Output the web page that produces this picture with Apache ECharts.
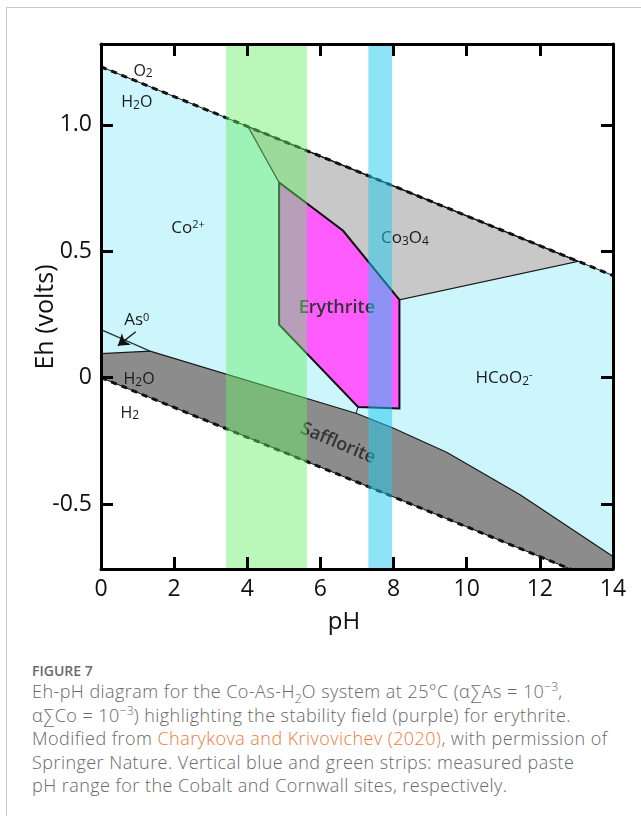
<!DOCTYPE html>
<html>
<head>
<meta charset="utf-8">
<title>Eh-pH diagram Co-As-H2O</title>
<script src="https://cdn.jsdelivr.net/npm/echarts@6/dist/echarts.min.js"></script>
<style>
  html, body { margin: 0; padding: 0; width: 641px; height: 816px; overflow: hidden; background: #fff; }
  .frame { position: absolute; left: 6px; top: 7px; right: 0; bottom: 0; border-left: 1px solid #c8c8c8; border-top: 1px solid #c8c8c8; }
  #chart { position: absolute; left: 0; top: 0; width: 641px; height: 645px; }
  .caption { position: absolute; left: 32px; top: 662px; width: 605px; color: #666; }
  .caption .fig { font-family: 'Open Sans', sans-serif; font-size: 14px; font-weight: 600; line-height: 18px; color: #6a6a6a; }
  .caption .txt { font-family: 'Open Sans', sans-serif; font-size: 18px; line-height: 23.5px; font-weight: 300; letter-spacing: 0.45px; white-space: nowrap; color: #686868; }
  .caption sub, .caption sup { font-size: 0.68em; line-height: 0; letter-spacing: 0; }
  .caption .link { color: #ee7a3a; }
</style>
</head>
<body>
<div class="frame"></div>
<div id="chart"></div>
<div class="caption">
  <div class="fig">FIGURE 7</div>
  <div class="txt">Eh-pH diagram for the Co-As-H<sub>2</sub>O system at 25°C (α∑As = 10<sup>−3</sup>,<br>α∑Co = 10<sup>−3</sup>) highlighting the stability field (purple) for erythrite.<br>Modified from <span class="link">Charykova and Krivovichev (2020)</span>, with permission of<br>Springer Nature. Vertical blue and green strips: measured paste<br>pH range for the Cobalt and Cornwall sites, respectively.</div>
</div>

<script>
  // all points are [pH, Eh (V)]
  const waterUpper = [[0, 1.23], [14, 0.404]];      // O2 / H2O
  const waterLower = [[0, 0.0], [14, -0.826]];      // H2O / H2
  const waterField = [[0, 1.23], [14, 0.404], [14, -0.826], [0, 0.0]];
  const co3o4Field = [[4.02, 0.993], [13.05, 0.46], [8.16, 0.308], [6.62, 0.581], [4.87, 0.772]];
  const erythriteField = [[4.87, 0.772], [6.62, 0.581], [8.16, 0.308], [8.16, -0.122], [7.03, -0.116], [4.87, 0.21]];
  const saffloriteTop = [[0, 0.095], [1.34, 0.105], [6.99, -0.142], [8.0, -0.2], [9.45, -0.295], [11.45, -0.462], [14, -0.708]];
  const saffloriteField = saffloriteTop.concat([[14, -0.826], [0, 0.0]]);
  const asLine = [[0, 0.19], [1.34, 0.105]];
  const asArrow = [[0.95, 0.182], [0.46, 0.126]];
  const erySaffLink = [[7.03, -0.116], [6.97, -0.142]];

  // measured paste pH ranges
  const strips = [[3.42, 5.63], [7.31, 7.96]];   // Cornwall (green), Cobalt (blue)

  const xTicks = [0, 2, 4, 6, 8, 10, 12, 14];
  const yTicks = [-0.5, 0, 0.5, 1.0];
  const yTickLabels = ['-0.5', '0', '0.5', '1.0'];

  const fieldNames = ['O{s|2}', 'H{s|2}O', 'Co{p|2+}', 'Co{s|3}O{s|4}', 'Erythrite', 'As{p|0}', 'H{s|2}O', 'H{s|2}', 'Safflorite', 'HCoO{s|2}{p|-}'];
  const fieldNameAt = [[1.15, 1.213], [0.98, 1.087], [2.38, 0.593], [8.31, 0.55], [6.45, 0.278], [0.98, 0.226], [1.04, -0.006], [0.79, -0.14], [6.48, -0.26], [11.02, -0.003]];

  const FONT = "'Open Sans', sans-serif";
  const myChart = echarts.init(document.getElementById('chart'));

  // filled stability field, drawn through the axes
  function field(points, fill, stroke, width, z) {
    return {
      type: 'custom',
      clip: true,
      z: z,
      silent: true,
      data: [0],
      encode: { x: 0 },
      renderItem: function (params, api) {
        return {
          type: 'polygon',
          shape: { points: points.map(function (p) { return api.coord(p); }) },
          style: { fill: fill, stroke: stroke || null, lineWidth: width || 0, lineJoin: 'miter' }
        };
      }
    };
  }

  function line(points, color, width, type, z) {
    return {
      type: 'line',
      data: points,
      showSymbol: false,
      silent: true,
      z: z,
      lineStyle: { color: color, width: width, type: type || 'solid' }
    };
  }

  let axisCommon = {
    type: 'value',
    z: 10,
    axisLine: { show: true, onZero: false, lineStyle: { color: '#000', width: 3 } },
    splitLine: { show: false }
  };
  let tickStyle = { show: true, inside: true, length: 12, lineStyle: { color: '#000', width: 3 } };

  let option = {
    backgroundColor: 'transparent',
    animation: false,
    grid: { left: 101, right: 28, top: 44, bottom: 76 },
    xAxis: [
      Object.assign({}, axisCommon, {
        position: 'bottom', min: 0, max: 14,
        axisTick: Object.assign({}, tickStyle, { customValues: xTicks }),
        axisLabel: { customValues: xTicks, fontSize: 23, color: '#111', margin: 9, fontFamily: FONT }
      }),
      Object.assign({}, axisCommon, {
        position: 'top', min: 0, max: 14,
        axisTick: Object.assign({}, tickStyle, { customValues: xTicks }),
        axisLabel: { show: false }
      })
    ],
    yAxis: [
      Object.assign({}, axisCommon, {
        position: 'left', min: -0.757, max: 1.32,
        axisTick: Object.assign({}, tickStyle, { customValues: yTicks }),
        axisLabel: {
          customValues: yTicks, fontSize: 23, color: '#111', margin: 9, fontFamily: FONT,
          formatter: function (v) {
            let i = yTicks.findIndex(function (t) { return Math.abs(t - v) < 1e-6; });
            return i >= 0 ? yTickLabels[i] : '';
          }
        }
      }),
      Object.assign({}, axisCommon, {
        position: 'right', min: -0.757, max: 1.32,
        axisTick: Object.assign({}, tickStyle, { customValues: yTicks }),
        axisLabel: { show: false }
      })
    ],
    graphic: [
      { type: 'text', x: 46, y: 317, rotation: Math.PI / 2, style: { text: 'Eh (volts)', fontSize: 25, fontFamily: FONT, fill: '#111', align: 'center', verticalAlign: 'middle' } },
      { type: 'text', x: 344, y: 622, style: { text: 'pH', fontSize: 24, fontFamily: FONT, fill: '#111', align: 'center', verticalAlign: 'middle' } }
    ],
    series: [
      field(waterField, '#ccf5fc', null, 0, 1),
      field(co3o4Field, '#c8c8c8', '#1a1a1a', 1.2, 2),
      field(saffloriteField, '#8c8c8c', null, 0, 2),
      field(erythriteField, '#ff5cff', '#111', 2, 3),
      line(saffloriteTop, '#1a1a1a', 1.2, 'solid', 4),
      Object.assign(line(asLine, '#1a3a3a', 1.2, 'solid', 4), {
        markLine: {
          silent: true, symbol: ['none', 'arrow'], symbolSize: 11,
          label: { show: false },
          lineStyle: { color: '#111', width: 1.3, type: 'solid' },
          data: [[{ coord: asArrow[0] }, { coord: asArrow[1] }]]
        }
      }),
      line(erySaffLink, '#1a1a1a', 1, 'solid', 4),
      line(waterUpper, '#111', 1, 'solid', 4),
      line(waterUpper, '#111', 3, [6, 5], 4),
      line(waterLower, '#111', 1, 'solid', 4),
      line(waterLower, '#111', 3, [6, 5], 4),
      {
        // field names
        type: 'custom',
        z: 5,
        silent: true,
        data: fieldNameAt,
        renderItem: function (params, api) {
          let p = api.coord([api.value(0), api.value(1)]);
          let i = params.dataIndex;
          let bold = (i === 4 || i === 8);
          let big = (i === 0 || i === 1 || i === 6 || i === 7) ? 16 : 17;
          return {
            type: 'text',
            x: p[0], y: p[1],
            rotation: i === 8 ? -0.4 : 0,
            style: {
              text: fieldNames[i],
              fontSize: bold ? 18 : big,
              fontWeight: bold ? 600 : 'normal',
              fontFamily: FONT,
              fill: bold ? '#333' : '#1a1a1a',
              align: 'center',
              verticalAlign: 'middle',
              rich: {
                s: { fontSize: 12, fontFamily: FONT, fill: '#1a1a1a', verticalAlign: 'bottom', padding: [6, 0, 0, 0] },
                p: { fontSize: 11, fontFamily: FONT, fill: '#1a1a1a', verticalAlign: 'top', padding: [0, 0, 6, 0] }
              }
            }
          };
        }
      },
      {
        // paste pH strips
        type: 'custom',
        z: 6,
        silent: true,
        data: strips,
        encode: { x: [0, 1] },
        renderItem: function (params, api) {
          let a = api.coord([api.value(0), 0]);
          let b = api.coord([api.value(1), 0]);
          let cs = params.coordSys;
          return {
            type: 'rect',
            shape: { x: a[0], y: cs.y, width: b[0] - a[0], height: cs.height },
            style: { fill: params.dataIndex === 0 ? 'rgba(100,240,100,0.45)' : 'rgba(30,200,240,0.5)' }
          };
        }
      }
    ]
  };

  myChart.setOption(option);

  window.addEventListener('resize', () => {
    myChart.resize();
  });
</script>
</body>
</html>
